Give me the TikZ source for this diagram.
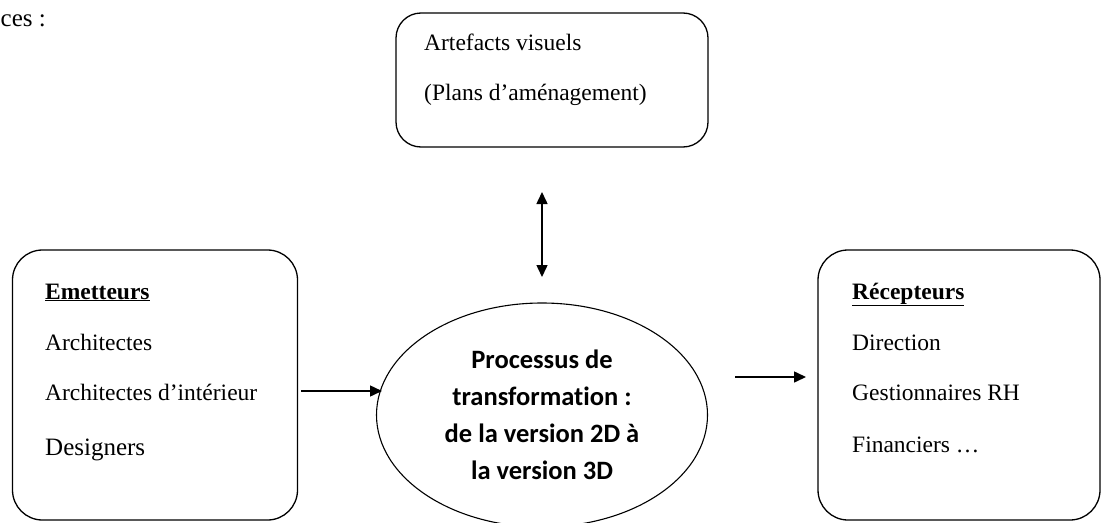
\documentclass[tikz,border=0pt]{standalone}
\usepackage{fontspec}
\setmainfont{Liberation Serif}
\newfontfamily\calib[Ligatures=NoCommon]{Carlito}
\usetikzlibrary{shapes.geometric,arrows.meta}
\begin{document}
\begin{tikzpicture}[x=1pt,y=-1pt,
  box/.style={draw,line width=1.3pt,rounded corners=30pt,inner sep=0pt},
  txt/.style={anchor=base west,inner sep=0pt,font=\fontsize{23.5}{28}\selectfont},
  conn/.style={line width=1.5pt,-{Triangle[length=12pt,width=11pt]}},
  dconn/.style={line width=1.5pt,{Triangle[length=12pt,width=11pt]}-{Triangle[length=12pt,width=11pt]}}]
\useasboundingbox (0,0) rectangle (1105,522);
\node[txt,font=\fontsize{25}{30}\selectfont] (ces) at (0.5,26) {ces :};
% top box
\node[box,rounded corners=25pt,minimum width=312pt,minimum height=134pt] (art) at (552,80) {};
\node[txt] (t1) at (424,50) {Artefacts visuels};
\node[txt] (t2) at (424,100) {(Plans d’aménagement)};
% left box
\node[box,minimum width=285pt,minimum height=270pt] (emet) at (155,385) {};
\node[txt] (e0) at (45,299) {\bfseries\underline{Emetteurs}};
\node[txt] (e1) at (45,350) {Architectes};
\node[txt] (e2) at (45,400) {Architectes d’intérieur};
\node[txt,font=\fontsize{25}{30}\selectfont] (e3) at (45,455) {Designers};
% right box
\node[box,minimum width=282pt,minimum height=270pt] (rec) at (959,385) {};
\node[txt] (r0) at (852,299) {\bfseries\underline{Récepteurs}};
\node[txt] (r1) at (852,350) {Direction};
\node[txt] (r2) at (852,400) {Gestionnaires RH};
\node[txt] (r3) at (852,452) {Financiers …};
% ellipse
\node[draw,line width=1.1pt,ellipse,minimum width=331pt,minimum height=224pt,inner sep=0pt,
  align=center,font=\calib\bfseries\fontsize{26.5}{37}\selectfont] (proc) at (542,415)
  {Processus de\\transformation :\\de la version 2D à\\la version 3D};
% connectors
\coordinate (ua) at (542,192);
\coordinate (ub) at (542,277);
\draw[dconn] (ua) -- (ub);
\coordinate (la) at (301,391);
\coordinate (lb) at (382,391);
\draw[conn] (la) -- (lb);
\coordinate (ra) at (735,377);
\coordinate (rb) at (806,377);
\draw[conn] (ra) -- (rb);
\end{tikzpicture}
\end{document}
